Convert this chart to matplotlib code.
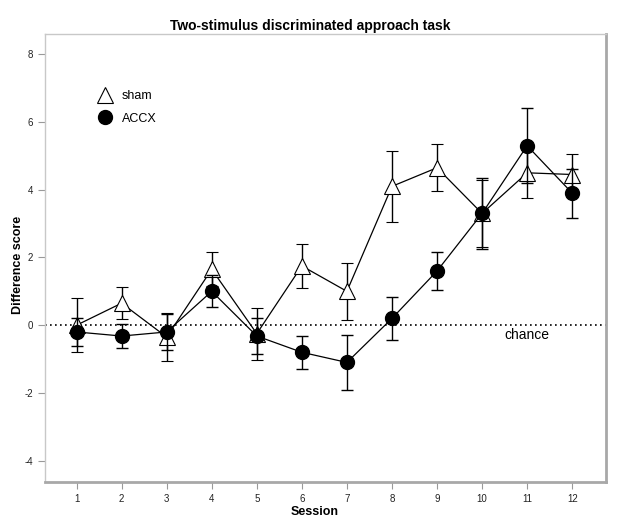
import matplotlib
matplotlib.use("Agg")
import matplotlib.pyplot as plt
from matplotlib.lines import Line2D

plt.rcParams['font.family'] = ['Liberation Sans', 'DejaVu Sans']
plt.rcParams['axes.unicode_minus'] = False

sessions = [1, 2, 3, 4, 5, 6, 7, 8, 9, 10, 11, 12]
sham_mean = [0.0, 0.65, -0.35, 1.65, -0.25, 1.75, 1.0, 4.1, 4.65, 3.3, 4.5, 4.45]
sham_err = [0.8, 0.47, 0.71, 0.5, 0.77, 0.64, 0.85, 1.05, 0.7, 1.0, 0.73, 0.6]
accx_mean = [-0.2, -0.32, -0.2, 1.0, -0.32, -0.8, -1.1, 0.2, 1.6, 3.3, 5.3, 3.9]
accx_err = [0.42, 0.36, 0.53, 0.47, 0.52, 0.49, 0.8, 0.63, 0.56, 1.05, 1.1, 0.72]
yticks = [-4, -2, 0, 2, 4, 6, 8]

fig = plt.figure(figsize=(6.2, 5.26), dpi=100)
ax = fig.add_axes([0.0726, 0.0837, 0.9048, 0.8517])

ax.axhline(0, color='black', linestyle=(0, (1, 2)), lw=1.2, zorder=1)

ax.errorbar(sessions, sham_mean, yerr=sham_err, color='black', lw=0.9,
            elinewidth=1, capsize=4.5, capthick=1, marker='^', markersize=11.5,
            markerfacecolor='white', markeredgecolor='black', markeredgewidth=0.8,
            zorder=2)
ax.errorbar(sessions, accx_mean, yerr=accx_err, color='black', lw=0.9,
            elinewidth=1, capsize=4.5, capthick=1, marker='o', markersize=10,
            markerfacecolor='black', markeredgecolor='black', zorder=3)

ax.text(11.0, -0.3, 'chance', ha='center', va='center', fontsize=10)

handles = [Line2D([], [], ls='none', marker='^', markersize=11.5, markerfacecolor='white',
                  markeredgecolor='black', markeredgewidth=0.8),
           Line2D([], [], ls='none', marker='o', markersize=10, color='black')]
ax.legend(handles, ['sham', 'ACCX'], loc='upper left', bbox_to_anchor=(0.075, 0.9),
          frameon=False, fontsize=9, handletextpad=0.9, labelspacing=0.85,
          handlelength=1.0)

ax.set_xlim(0.3, 12.75)
ax.set_ylim(-4.63, 8.6)
ax.set_xticks(sessions)
ax.set_yticks(yticks)
ax.tick_params(axis='both', labelsize=7, color='#999999', length=5, width=0.8,
               labelcolor='#222222')

for s in ['left', 'top']:
    ax.spines[s].set_color('#c8c8c8')
    ax.spines[s].set_linewidth(1)
for s in ['right', 'bottom']:
    ax.spines[s].set_color('#a8a8a8')
    ax.spines[s].set_linewidth(2)

ax.set_title('Two-stimulus discriminated approach task', fontsize=10,
             fontweight='bold', x=0.472, pad=3)
ax.set_xlabel('Session', fontsize=9, fontweight='bold')
ax.xaxis.set_label_coords(0.481, -0.054)
ax.set_ylabel('Difference score', fontsize=9, fontweight='bold')
ax.yaxis.set_label_coords(-0.038, 0.484)

fig.savefig('out.png', dpi=100)
